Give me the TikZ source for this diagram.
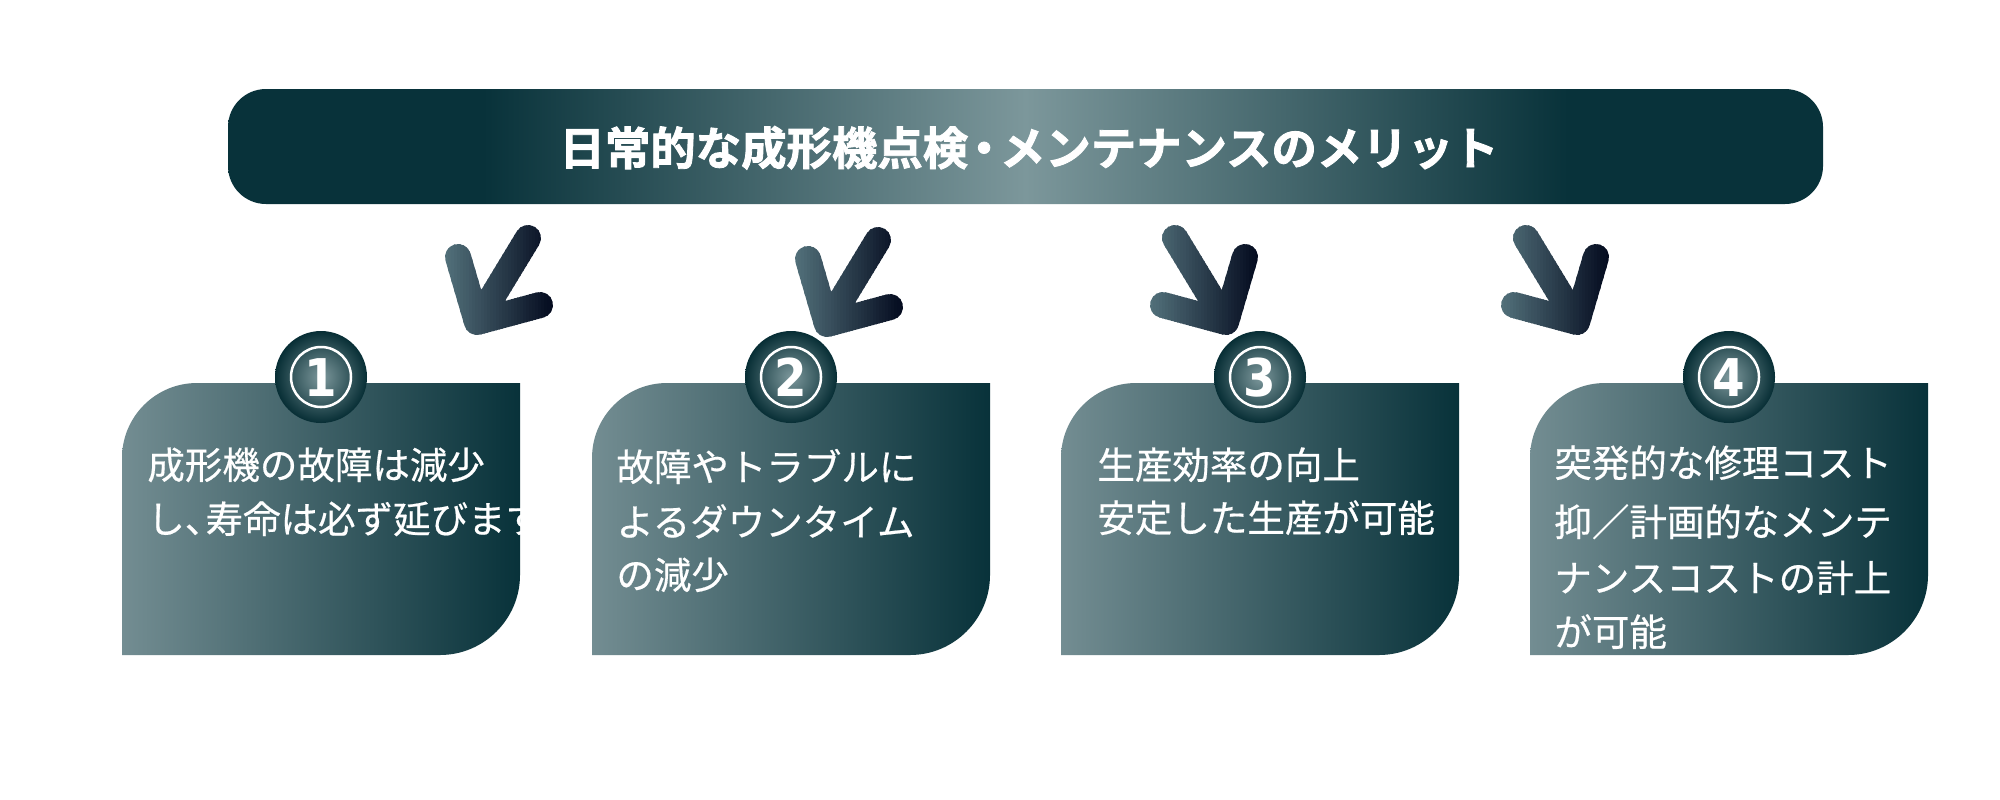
\documentclass[tikz,border=0pt]{standalone}
\usepackage{fontspec}
\newfontfamily\jp{Noto Sans CJK JP}[FakeBold=0.5]
\newfontfamily\jpb{Noto Sans CJK JP Bold}[FakeBold=1.8]
\newfontfamily\numfont{DejaVu Sans Condensed Bold}
\definecolor{hdark}{HTML}{08323A}
\definecolor{hlight}{HTML}{7C979B}
\definecolor{boxL}{HTML}{738D92}
\definecolor{boxR}{HTML}{08323A}
\definecolor{arrL}{HTML}{52707A}
\definecolor{arrR}{HTML}{030A1E}
\definecolor{badgeL}{HTML}{7D989C}
\definecolor{badgeD}{HTML}{072E35}
\pgfdeclarehorizontalshading{hdr}{100bp}{color(0bp)=(hdark); color(33bp)=(hdark); color(50bp)=(hlight); color(67bp)=(hdark); color(100bp)=(hdark)}
\tikzset{
  boxtext/.style={anchor=base west, inner sep=0pt, text=white, font=\jp\fontsize{18.75pt}{22pt}\selectfont},
  numtext/.style={anchor=base, inner sep=0pt, text=white, font=\numfont\fontsize{26pt}{26pt}\selectfont},
  hdrtext/.style={anchor=base, inner sep=0pt, text=white, font=\jpb\fontsize{22.7pt}{26pt}\selectfont},
  badge/.style={circle, minimum size=46pt, inner sep=0pt, inner color=badgeL, outer color=badgeD},
  ring/.style={draw=white, line width=1.25pt},
  arrowline/.style={line width=13pt, line cap=round, line join=round},
  boxshade/.style={left color=boxL, right color=boxR},
}
% #1 tip x, #2 tip y, #3 xscale, #4 xmin, #5 xmax
\newcommand\gradarrow[5]{%
  \foreach \i in {0,...,35}{%
    \pgfmathsetmacro\xa{#4+(#5-#4)*\i/36}%
    \pgfmathsetmacro\xb{#4+(#5-#4)*(\i+1)/36+0.8}%
    \pgfmathtruncatemacro\pp{100*(\i+0.5)/36}%
    \begin{scope}
      \clip (\xa,200) rectangle (\xb,360);
      \begin{scope}[shift={(#1,#2)},xscale=#3]
        \draw[arrowline, arrR!\pp!arrL] (-19,-65) -- (0,0) -- (63,-17) (0,0) -- (51,-84);
      \end{scope}
    \end{scope}}}
% #1 left x
\newcommand\gbox[1]{%
  \shade[boxshade] (#1,655) -- (#1,458) .. controls (#1,416.6) and ({#1+33.6},383) .. ({#1+75},383)
    -- ({#1+398},383) -- ({#1+398},575) .. controls ({#1+398},619) and ({#1+362},655) .. ({#1+318},655) -- cycle;}
\begin{document}
\begin{tikzpicture}[x=0.5pt,y=-0.5pt]
\fill[white] (0,0) rectangle (2000,799);
\useasboundingbox (0,0) rectangle (2000,799);
% header
\shade[shading=hdr, rounded corners=19pt] (228,89) rectangle (1823,204);
\node[hdrtext] (title) at (1029,165) {日常的な成形機点検\kern-0.15em・\kern-0.15emメンテナンスのメリット};
% arrows
\gradarrow{477}{322}{1}{445}{553}
\gradarrow{827}{324}{1}{795}{903}
\gradarrow{1226}{322}{-1}{1150}{1258}
\gradarrow{1577}{322}{-1}{1501}{1609}
% boxes
\gbox{122}
\gbox{592}
\gbox{1061}
\gbox{1530}
% badges
\foreach \n/\cx in {1/321,2/791,3/1260,4/1729}{
  \node[badge] (badge\n) at (\cx,377) {};
  \draw[ring] (badge\n.center) circle[radius=15pt];
  \node[numtext] (num\n) at (\cx,396) {\n};
}
% texts
\node[boxtext] (b1a) at (147,479) {成形機の故障は減少};
\node[boxtext] (b1b) at (147,533) {し、\kern-0.45em寿命は必ず延びます};
\node[boxtext] (b2a) at (616,481) {故障やトラブルに};
\node[boxtext] (b2b) at (616,536) {よるダウンタイム};
\node[boxtext] (b2c) at (616,589) {の減少};
\node[boxtext] (b3a) at (1097,479) {生産効率の向上};
\node[boxtext] (b3b) at (1097,532) {安定した生産が可能};
\node[boxtext] (b4a) at (1554,477) {突発的な修理コスト};
\node[boxtext] (b4b) at (1554,536) {抑／計画的なメンテ};
\node[boxtext] (b4c) at (1554,592) {ナンスコストの計上};
\node[boxtext] (b4d) at (1554,646) {が可能};
\end{tikzpicture}
\end{document}
